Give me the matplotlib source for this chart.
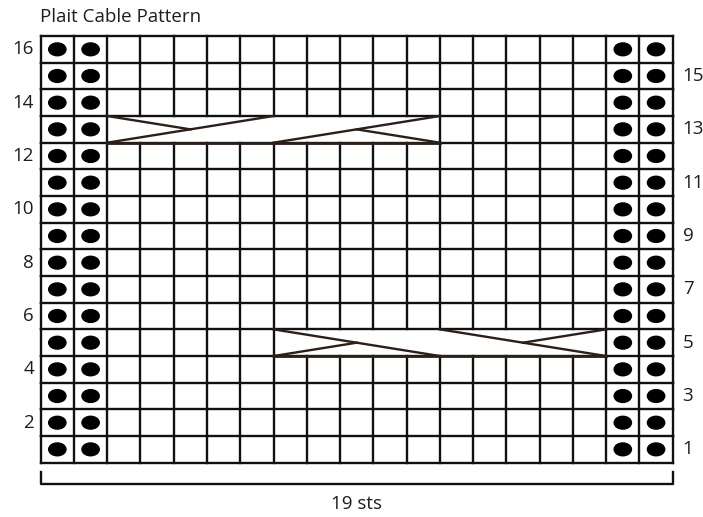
import matplotlib
matplotlib.use('Agg')
import matplotlib.pyplot as plt
from matplotlib.patches import Ellipse, Rectangle

# chart data
title = 'Plait Cable Pattern'
n_sts = 19
n_rows = 16
purl_sts = [1, 2, 18, 19]
left_labels = [2, 4, 6, 8, 10, 12, 14, 16]
right_labels = [1, 3, 5, 7, 9, 11, 13, 15]
width_label = '19 sts'
# cables: row, first stitch, last stitch, front strand, back strand half
cable_rows = [13, 13, 5, 5]
cable_first = [3, 8, 8, 13]
cable_last = [7, 12, 12, 17]
cable_front = ['up', 'up', 'down', 'down']
cable_back = ['left', 'right', 'left', 'right']

plt.rcParams['font.family'] = ['Open Sans', 'DejaVu Sans']

fig = plt.figure(figsize=(7.03, 5.17), dpi=100)
ax = fig.add_axes([40.7 / 703, (517 - 462.7) / 517, 632 / 703, 426.7 / 517])
ax.set_xlim(0, n_sts)
ax.set_ylim(0, n_rows)
ax.axis('off')

lw = 1.7
ink = '#111111'
cable_ink = '#2b1f18'
txt = '#1e1e1e'
fs = 13.5

# which cells are covered by a cable
covered = set()
for r, a, b in zip(cable_rows, cable_first, cable_last):
    for s in range(a, b + 1):
        covered.add((r, s))

# grid lines (vertical segments per row, skipping inside cables)
for r in range(1, n_rows + 1):
    for s in range(0, n_sts + 1):
        inside = (r, s) in covered and (r, s + 1) in covered
        if not inside:
            ax.plot([s, s], [r - 1, r], color=ink, lw=lw, solid_capstyle='projecting')
for y in range(0, n_rows + 1):
    ax.plot([0, n_sts], [y, y], color=ink, lw=lw, solid_capstyle='projecting')

# purl dots
for r in range(1, n_rows + 1):
    for s in purl_sts:
        ax.add_patch(Ellipse((s - 0.5, r - 0.5), 0.52, 0.48, color='black'))

# cables
for r, a, b, front, back in zip(cable_rows, cable_first, cable_last, cable_front, cable_back):
    x0, x1 = a - 1, b
    y0, y1 = r - 1, r
    xm, ym = (x0 + x1) / 2, (y0 + y1) / 2
    ax.plot([x0, x1], [y0, y0], color=cable_ink, lw=lw + 0.3, zorder=3)
    if front == 'up':
        ax.plot([x0, x1], [y0, y1], color=cable_ink, lw=lw, zorder=4)
        if back == 'left':
            ax.plot([x0, xm], [y1, ym], color=cable_ink, lw=lw, zorder=4)
        else:
            ax.plot([xm, x1], [ym, y0], color=cable_ink, lw=lw, zorder=4)
    else:
        ax.plot([x0, x1], [y1, y0], color=cable_ink, lw=lw, zorder=4)
        if back == 'left':
            ax.plot([x0, xm], [y0, ym], color=cable_ink, lw=lw, zorder=4)
        else:
            ax.plot([xm, x1], [ym, y1], color=cable_ink, lw=lw, zorder=4)

# row numbers
for n in left_labels:
    ax.text(-0.2, n - 0.5, str(n), ha='right', va='center', fontsize=fs, color=txt)
for n in right_labels:
    ax.text(n_sts + 0.3, n - 0.5, str(n), ha='left', va='center', fontsize=fs, color=txt)

# bracket under the chart
ax.plot([0, 0, n_sts, n_sts], [-0.35, -0.8, -0.8, -0.35], color=ink, lw=lw)
ax.text(n_sts / 2, -1.53, width_label, ha='center', va='center', fontsize=fs, color=txt)

ax.text(-0.02, 16.7, title, ha='left', va='center', fontsize=fs, color=txt)

for artist in ax.lines:
    artist.set_clip_on(False)

fig.savefig('out.png', dpi=100)
